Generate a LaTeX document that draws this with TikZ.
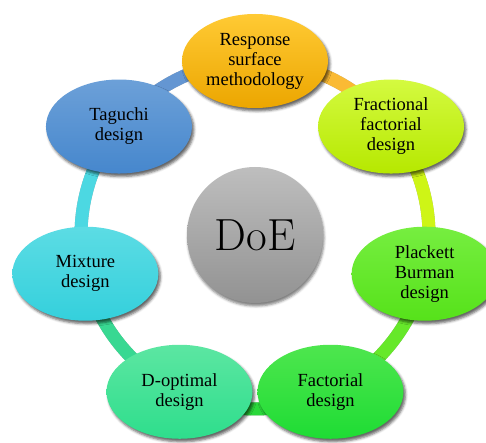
\documentclass[tikz,border=0pt]{standalone}
\usepackage{fontspec}
\newfontfamily\labelfont{Liberation Serif}
\usetikzlibrary{shapes.geometric,shadows.blur,backgrounds,calc}

% stage fills (top / bottom of the gradient) and ring segment colours
\definecolor{rsmTop}{RGB}{255,202,52}   \definecolor{rsmBot}{RGB}{236,166,0}
\definecolor{ffdTop}{RGB}{212,250,64}   \definecolor{ffdBot}{RGB}{182,232,0}
\definecolor{pbdTop}{RGB}{118,238,64}   \definecolor{pbdBot}{RGB}{86,226,26}
\definecolor{facTop}{RGB}{78,230,78}    \definecolor{facBot}{RGB}{30,220,52}
\definecolor{dopTop}{RGB}{92,230,162}   \definecolor{dopBot}{RGB}{46,222,140}
\definecolor{mixTop}{RGB}{92,220,228}   \definecolor{mixBot}{RGB}{52,208,220}
\definecolor{tagTop}{RGB}{108,160,216}  \definecolor{tagBot}{RGB}{70,135,205}
\definecolor{hubTop}{RGB}{190,190,190}  \definecolor{hubBot}{RGB}{146,146,146}

\definecolor{rsmLink}{RGB}{250,186,52}
\definecolor{ffdLink}{RGB}{206,245,22}
\definecolor{pbdLink}{RGB}{102,232,42}
\definecolor{facLink}{RGB}{42,216,58}
\definecolor{dopLink}{RGB}{56,216,146}
\definecolor{mixLink}{RGB}{76,216,226}
\definecolor{tagLink}{RGB}{100,150,210}

\begin{document}
\begin{tikzpicture}[x=1pt,y=1pt,
  stage/.style={ellipse, minimum width=146pt, minimum height=94pt, inner sep=0pt,
    align=center, text=black, font=\labelfont\fontsize{18.5}{20}\selectfont,
    blur shadow={shadow xshift=2pt, shadow yshift=-3pt, shadow blur radius=2.5pt, shadow opacity=60}},
  hub/.style={circle, minimum size=136pt, inner sep=0pt, top color=hubTop, bottom color=hubBot,
    font=\fontsize{45}{50}\selectfont,
    blur shadow={shadow xshift=1pt, shadow yshift=-3pt, shadow blur radius=2.5pt, shadow opacity=50}},
  link/.style={line width=13pt},
  linkshade/.style={line width=13pt, black, opacity=0.35}
]
\useasboundingbox (0,0) rectangle (486,442);
\coordinate (C) at (255,207);

\node[hub] (doe) at (C) {DoE};

\node[stage, top color=rsmTop, bottom color=rsmBot] (rsm) at ($(C)+(90:174)$)
  {Response\\surface\\methodology};
\node[stage, top color=ffdTop, bottom color=ffdBot] (ffd) at ($(C)+({90-360/7}:174)$)
  {Fractional\\factorial\\design};
\node[stage, top color=pbdTop, bottom color=pbdBot] (pbd) at ($(C)+({90-2*360/7}:174)$)
  {Plackett\\Burman\\design};
\node[stage, top color=facTop, bottom color=facBot] (fac) at ($(C)+({90-3*360/7}:174)$)
  {Factorial\\design};
\node[stage, top color=dopTop, bottom color=dopBot] (dop) at ($(C)+({90-4*360/7}:174)$)
  {D-optimal\\design};
\node[stage, top color=mixTop, bottom color=mixBot] (mix) at ($(C)+({90-5*360/7}:174)$)
  {Mixture\\design};
\node[stage, top color=tagTop, bottom color=tagBot] (tag) at ($(C)+({90-6*360/7}:174)$)
  {Taguchi\\design};

% ring segments, each in the colour of the stage it leaves
\begin{scope}[on background layer]
  \begin{scope}[shift={(1.5,-2.5)}]
    \foreach \a/\b in {rsm/0,ffd/1,pbd/2,fac/3,dop/4,mix/5,tag/6}
      \draw[linkshade] (\a.center) arc[start angle={90-\b*360/7}, end angle={90-(\b+1)*360/7}, radius=174];
  \end{scope}
  \foreach \a/\b/\c in {rsm/0/rsmLink,ffd/1/ffdLink,pbd/2/pbdLink,fac/3/facLink,dop/4/dopLink,mix/5/mixLink,tag/6/tagLink}
    \draw[link, \c] (\a.center) arc[start angle={90-\b*360/7}, end angle={90-(\b+1)*360/7}, radius=174];
\end{scope}
\end{tikzpicture}
\end{document}
